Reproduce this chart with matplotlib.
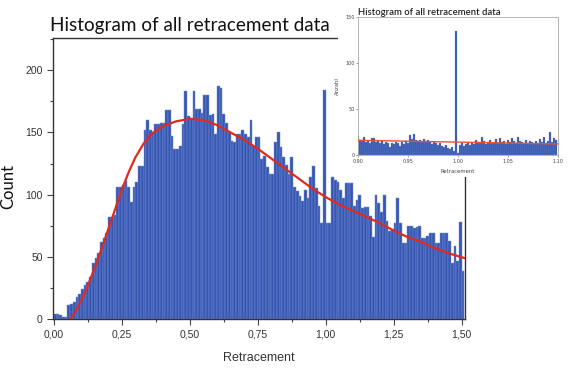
import numpy as np
import matplotlib
matplotlib.use('Agg')
import matplotlib.pyplot as plt
from matplotlib.patches import Rectangle
from matplotlib.ticker import MultipleLocator, FuncFormatter

# main histogram, bin width 0.01, left edges 0.00 .. 1.50
bin_width = 0.01
counts = [
    4, 4, 3, 2, 2, 11, 12, 14, 18, 20,
    24, 27, 30, 34, 45, 49, 53, 62, 65, 69,
    82, 82, 84, 106, 106, 108, 111, 106, 94, 106,
    110, 123, 123, 152, 160, 152, 150, 157, 157, 158,
    158, 168, 168, 147, 137, 137, 139, 157, 183, 163,
    162, 183, 169, 169, 166, 180, 180, 164, 165, 149,
    187, 186, 165, 158, 150, 143, 142, 149, 149, 152,
    149, 146, 160, 139, 146, 146, 129, 131, 122, 117,
    117, 142, 150, 138, 130, 124, 117, 130, 106, 103,
    99, 95, 104, 97, 114, 123, 105, 91, 77, 184,
    77, 77, 114, 112, 110, 104, 97, 109, 109, 109,
    91, 96, 100, 89, 90, 90, 83, 66, 100, 93,
    86, 100, 79, 71, 72, 77, 97, 77, 61, 61,
    75, 75, 73, 74, 75, 65, 65, 67, 69, 69,
    61, 61, 69, 69, 69, 63, 45, 59, 47, 78,
    39,
]
bin_left = np.arange(len(counts)) * bin_width

# fitted curve
fit_x = [0.06, 0.08, 0.10, 0.12, 0.15, 0.175, 0.20, 0.225, 0.25, 0.275, 0.30,
         0.33, 0.36, 0.40, 0.45, 0.50, 0.55, 0.60, 0.65, 0.70, 0.75, 0.80,
         0.85, 0.90, 0.95, 1.00, 1.05, 1.10, 1.15, 1.20, 1.25, 1.30, 1.35,
         1.40, 1.45, 1.51]
fit_y = [0, 6, 15, 24, 41, 56, 72, 88, 104, 118, 130,
         141, 149, 155, 159, 161, 160, 156, 150, 144, 137, 129,
         121, 113, 105, 98, 92, 87, 82, 77, 71, 66, 62,
         57, 53, 49]

# inset histogram, bin width 0.002 around 1.00
inset_width = 0.002
inset_counts = [
    21, 16, 15, 20, 14, 15, 13, 18, 19, 14,
    16, 13, 15, 12, 14, 13, 9, 13, 12, 14,
    13, 10, 14, 12, 15, 13, 22, 17, 23, 16,
    15, 16, 14, 17, 15, 16, 14, 12, 15, 13,
    11, 13, 10, 9, 11, 8, 7, 9, 4, 135,
    2, 11, 13, 10, 12, 14, 11, 13, 12, 16,
    14, 13, 20, 15, 12, 14, 16, 13, 14, 17,
    13, 18, 14, 15, 12, 16, 14, 19, 15, 13,
    20, 15, 14, 12, 16, 13, 15, 14, 12, 15,
    13, 17, 14, 20, 13, 15, 25, 14, 18, 16,
]
inset_left = 0.899 + np.arange(len(inset_counts)) * inset_width
inset_fit_x = [0.90, 0.95, 1.00, 1.05, 1.10]
inset_fit_y = [16, 15, 14, 13, 12]

bar_color = '#3657b2'
edge_color = '#7590d2'
fit_color = '#e02a1e'

comma = FuncFormatter(lambda v, p: f'{v:.2f}'.replace('.', ','))

fig = plt.figure(figsize=(5.72, 3.70), dpi=100)
ax = fig.add_axes([53/572, 1 - 319/370, 412/572, (319 - 38)/370])

ax.bar(bin_left, counts, width=bin_width, align='edge',
       color=bar_color, edgecolor=edge_color, linewidth=0.35)
ax.plot(fit_x, fit_y, color=fit_color, lw=1.6, zorder=3)

ax.set_xlim(-0.003, 1.512)
ax.set_ylim(0, 226)
ax.xaxis.set_major_locator(MultipleLocator(0.25))
ax.xaxis.set_minor_locator(MultipleLocator(0.125))
ax.yaxis.set_major_locator(MultipleLocator(50))
ax.yaxis.set_minor_locator(MultipleLocator(25))
ax.xaxis.set_major_formatter(comma)
ax.tick_params(which='both', direction='out', colors='#444444',
               labelsize=7.5, labelcolor='#333333', width=0.8)
ax.tick_params(which='major', length=4)
ax.tick_params(which='minor', length=2.5)
for s in ax.spines.values():
    s.set_color('#333333')
    s.set_linewidth(1.0)
for lab in ax.get_xticklabels() + ax.get_yticklabels():
    lab.set_family('Liberation Sans')

ax.set_xlabel('Retracement', fontsize=9, family='Liberation Sans',
              color='#333333', labelpad=9)
ax.set_ylabel('Count', fontsize=12, family='Lato', color='#111111')
ax.yaxis.set_label_coords(-0.09, 0.47)
fig.text(50/572, 1 - 31/370, 'Histogram of all retracement data',
         fontsize=13.6, family='Lato', color='#111111')

# white patch behind the inset
fig.add_artist(Rectangle((338/572, 1 - 177/370), 1, 1, transform=fig.transFigure,
                         facecolor='white', edgecolor='none', zorder=1))

ins = fig.add_axes([358/572, 1 - 155/370, 200/572, 138/370], zorder=2)
ins.bar(inset_left, inset_counts, width=inset_width, align='edge',
        color=bar_color, edgecolor=edge_color, linewidth=0.2)
ins.plot(inset_fit_x, inset_fit_y, color='#f0502a', lw=1.0, zorder=3)
ins.set_xlim(0.90, 1.10)
ins.set_ylim(0, 150)
ins.set_xticks([0.90, 0.95, 1.00, 1.05, 1.10])
ins.set_yticks([0, 50, 100, 150])
ins.xaxis.set_major_formatter(comma)
ins.tick_params(direction='out', length=1.5, width=0.5, labelsize=3.5,
                colors='#777777', labelcolor='#444444', pad=1)
for s in ins.spines.values():
    s.set_color('#aaaaaa')
    s.set_linewidth(0.6)
ins.set_xlabel('Retracement', fontsize=3.8, color='#444444', labelpad=4)
ins.set_ylabel('Anzahl', fontsize=3.8, color='#444444', labelpad=4)
fig.text(358/572, 1 - 15/370, 'Histogram of all retracement data',
         fontsize=6.8, family='Lato', fontweight='semibold', color='#222222')

fig.savefig('out.png', dpi=100)
